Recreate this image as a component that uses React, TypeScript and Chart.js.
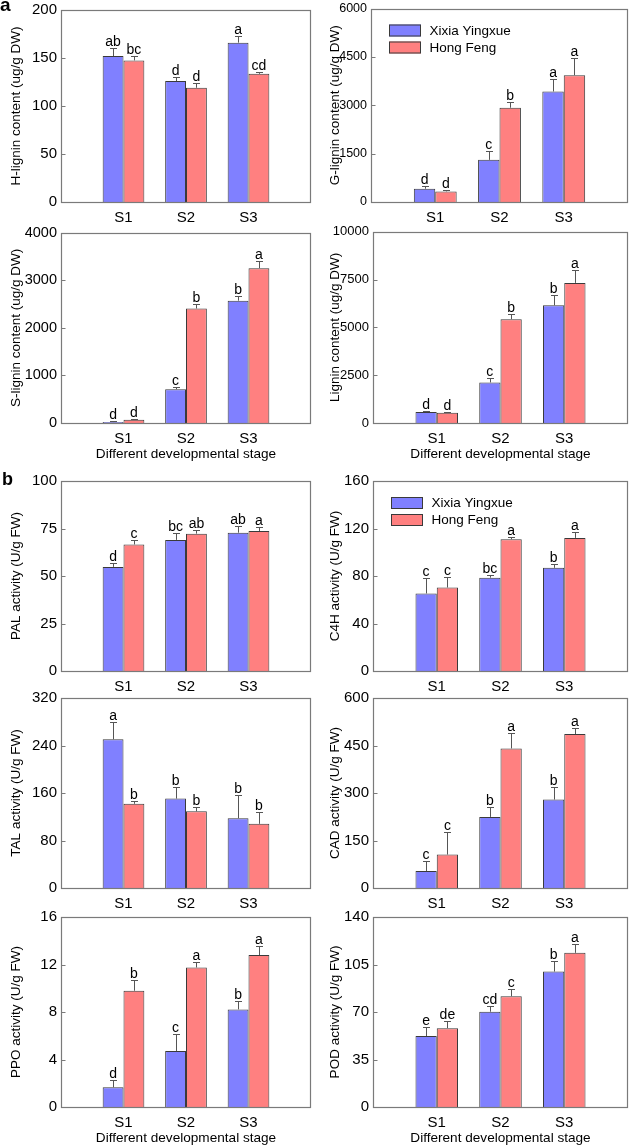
import React, { useEffect, useRef } from "react";
import { Chart, registerables } from "chart.js";

Chart.register(...registerables);

const FONT = "'Liberation Sans', Arial, Helvetica, sans-serif";
Chart.defaults.font.family = FONT;
Chart.defaults.color = "#000";

// ---------- data ----------
const stages = ["S1", "S2", "S3"];
const seriesNames = ["Xixia Yingxue", "Hong Feng"];
const xAxisTitle = "Different developmental stage";

const hLigninXixia = [152, 126, 166];
const hLigninXixiaSd = [8, 4, 7];
const hLigninXixiaSig = ["ab", "d", "a"];
const hLigninHong = [147.5, 119, 133.5];
const hLigninHongSd = [4.5, 5, 2];
const hLigninHongSig = ["bc", "d", "cd"];

const gLigninXixia = [412, 1307, 3427];
const gLigninXixiaSd = [72, 288, 381];
const gLigninXixiaSig = ["d", "c", "a"];
const gLigninHong = [329, 2923, 3931];
const gLigninHongSd = [41, 185, 546];
const gLigninHongSig = ["d", "b", "a"];

const sLigninXixia = [20, 710, 2572];
const sLigninXixiaSd = [15, 42, 104];
const sLigninXixiaSig = ["d", "c", "b"];
const sLigninHong = [69, 2407, 3255];
const sLigninHongSd = [14, 96, 159];
const sLigninHongSig = ["d", "b", "a"];

const ligninXixia = [569, 2121, 6155];
const ligninXixiaSd = [69, 207, 535];
const ligninXixiaSig = ["d", "c", "b"];
const ligninHong = [534, 5431, 7328];
const ligninHongSd = [52, 293, 689];
const ligninHongSig = ["d", "b", "a"];

const palXixia = [54.8, 69.0, 72.8];
const palXixiaSd = [2.3, 3.5, 3.3];
const palXixiaSig = ["d", "bc", "ab"];
const palHong = [66.6, 72.3, 73.7];
const palHongSd = [2.3, 1.7, 2.3];
const palHongSig = ["c", "ab", "a"];

const c4hXixia = [65.3, 78.6, 86.9];
const c4hXixiaSd = [12.8, 2.2, 3.1];
const c4hXixiaSig = ["c", "bc", "b"];
const c4hHong = [70.3, 111.0, 112.1];
const c4hHongSd = [9.1, 1.9, 5.3];
const c4hHongSig = ["c", "a", "a"];

const talXixia = [250.5, 150.6, 117.5];
const talXixiaSd = [29.8, 19.3, 38.6];
const talXixiaSig = ["a", "b", "b"];
const talHong = [141.8, 129.1, 108.1];
const talHongSd = [5.5, 7.7, 20.5];
const talHongSig = ["b", "b", "b"];

const cadXixia = [53.8, 224.5, 279.3];
const cadXixiaSd = [31, 30, 38.3];
const cadXixiaSig = ["c", "b", "b"];
const cadHong = [105.5, 440.7, 486.2];
const cadHongSd = [72.4, 49.6, 19.6];
const cadHongSig = ["c", "a", "a"];

const ppoXixia = [1.66, 4.72, 8.22];
const ppoXixiaSd = [0.6, 1.4, 0.72];
const ppoXixiaSig = ["d", "c", "b"];
const ppoHong = [9.79, 11.75, 12.8];
const ppoHongSd = [0.94, 0.5, 0.74];
const ppoHongSig = ["b", "a", "a"];

const podXixia = [52.3, 70.2, 99.8];
const podXixiaSd = [6.8, 4.2, 7.7];
const podXixiaSig = ["e", "cd", "b"];
const podHong = [58.1, 81.6, 113.6];
const podHongSd = [5.6, 5.1, 6.3];
const podHongSig = ["de", "c", "a"];

// ---------- styles ----------
const BLUE = "rgb(128,128,255)";
const RED = "rgb(255,128,128)";
const EDGE = "#3a3a3a";
const FRAME = "#7a7a7a";
const ERR = "#555";

type Panel = {
  title: string;
  max: number;
  step: number;
  a: number[]; aSd: number[]; aSig: string[];
  b: number[]; bSd: number[]; bSig: string[];
  col: number;
  plotLeft: number;
  plotTop: number;
  plotBottom: number;
  xTitle: boolean;
  legend: boolean;
  yFont: number;
};

const panels: Panel[] = [
  { title: "H-lignin content (ug/g DW)", max: 200, step: 50, a: hLigninXixia, aSd: hLigninXixiaSd, aSig: hLigninXixiaSig, b: hLigninHong, bSd: hLigninHongSd, bSig: hLigninHongSig, col: 0, plotLeft: 61, plotTop: 7, plotBottom: 202, xTitle: false, legend: false, yFont: 15 },
  { title: "G-lignin content (ug/g DW)", max: 6000, step: 1500, a: gLigninXixia, aSd: gLigninXixiaSd, aSig: gLigninXixiaSig, b: gLigninHong, bSd: gLigninHongSd, bSig: gLigninHongSig, col: 1, plotLeft: 371, plotTop: 7, plotBottom: 202, xTitle: false, legend: true, yFont: 12.5 },
  { title: "S-lignin content (ug/g DW)", max: 4000, step: 1000, a: sLigninXixia, aSd: sLigninXixiaSd, aSig: sLigninXixiaSig, b: sLigninHong, bSd: sLigninHongSd, bSig: sLigninHongSig, col: 0, plotLeft: 61, plotTop: 230, plotBottom: 423, xTitle: true, legend: false, yFont: 14.5 },
  { title: "Lignin content (ug/g DW)", max: 10000, step: 2500, a: ligninXixia, aSd: ligninXixiaSd, aSig: ligninXixiaSig, b: ligninHong, bSd: ligninHongSd, bSig: ligninHongSig, col: 1, plotLeft: 373, plotTop: 230, plotBottom: 423, xTitle: true, legend: false, yFont: 13 },
  { title: "PAL activity (U/g FW)", max: 100, step: 25, a: palXixia, aSd: palXixiaSd, aSig: palXixiaSig, b: palHong, bSd: palHongSd, bSig: palHongSig, col: 0, plotLeft: 61, plotTop: 478, plotBottom: 671, xTitle: false, legend: false, yFont: 15 },
  { title: "C4H activity (U/g FW)", max: 160, step: 40, a: c4hXixia, aSd: c4hXixiaSd, aSig: c4hXixiaSig, b: c4hHong, bSd: c4hHongSd, bSig: c4hHongSig, col: 1, plotLeft: 373, plotTop: 478, plotBottom: 671, xTitle: false, legend: true, yFont: 15 },
  { title: "TAL activity (U/g FW)", max: 320, step: 80, a: talXixia, aSd: talXixiaSd, aSig: talXixiaSig, b: talHong, bSd: talHongSd, bSig: talHongSig, col: 0, plotLeft: 61, plotTop: 695, plotBottom: 888, xTitle: false, legend: false, yFont: 15 },
  { title: "CAD activity (U/g FW)", max: 600, step: 150, a: cadXixia, aSd: cadXixiaSd, aSig: cadXixiaSig, b: cadHong, bSd: cadHongSd, bSig: cadHongSig, col: 1, plotLeft: 373, plotTop: 695, plotBottom: 888, xTitle: false, legend: false, yFont: 15 },
  { title: "PPO activity (U/g FW)", max: 16, step: 4, a: ppoXixia, aSd: ppoXixiaSd, aSig: ppoXixiaSig, b: ppoHong, bSd: ppoHongSd, bSig: ppoHongSig, col: 0, plotLeft: 61, plotTop: 914, plotBottom: 1107, xTitle: true, legend: false, yFont: 15 },
  { title: "POD activity (U/g FW)", max: 140, step: 35, a: podXixia, aSd: podXixiaSd, aSig: podXixiaSig, b: podHong, bSd: podHongSd, bSig: podHongSig, col: 1, plotLeft: 373, plotTop: 914, plotBottom: 1107, xTitle: true, legend: false, yFont: 15 },
];

const COL_LEFT = [0, 310];
const COL_RIGHT = [315, 632];
const PAD_TOP = 10;
const PAD_RIGHT = 3;

function PanelChart({ p }: { p: Panel }) {
  const ref = useRef<HTMLCanvasElement>(null);
  const canvasLeft = COL_LEFT[p.col];
  const canvasTop = p.plotTop - PAD_TOP;
  const xH = p.xTitle ? 40 : 28;
  const width = COL_RIGHT[p.col] + PAD_RIGHT - canvasLeft;
  const height = p.plotBottom - canvasTop + xH;
  const yW = p.plotLeft - canvasLeft;

  useEffect(() => {
    const labels = ["", ...stages, ""];
    const padArr = (a: number[]) => [null, ...a, null];
    const values = [p.a, p.b];
    const sds = [p.aSd, p.bSd];
    const sigs = [p.aSig, p.bSig];
    const colors = [BLUE, RED];

    const decor = {
      id: "decor",
      afterDatasetsDraw(chart: any) {
        const ctx = chart.ctx;
        const ys = chart.scales.y;
        ctx.save();
        for (let d = 0; d < 2; d++) {
          const meta = chart.getDatasetMeta(d);
          for (let j = 0; j < stages.length; j++) {
            const el = meta.data[j + 1];
            if (!el) continue;
            const x = Math.round(el.x) + 0.5;
            const v = values[d][j];
            const top = v + sds[d][j];
            const yBar = ys.getPixelForValue(v);
            const yTop = Math.round(ys.getPixelForValue(top)) + 0.5;
            ctx.strokeStyle = ERR;
            ctx.lineWidth = 1;
            ctx.beginPath();
            ctx.moveTo(x, yBar);
            ctx.lineTo(x, yTop);
            ctx.moveTo(x - 3.5, yTop);
            ctx.lineTo(x + 3.5, yTop);
            ctx.stroke();
            ctx.fillStyle = "#000";
            ctx.font = `14px ${FONT}`;
            ctx.textAlign = "center";
            ctx.textBaseline = "alphabetic";
            ctx.fillText(sigs[d][j], el.x, yTop - 2.5);
          }
        }
        ctx.restore();
      },
      afterDraw(chart: any) {
        const ctx = chart.ctx;
        const area = chart.chartArea;
        const ys = chart.scales.y;
        ctx.save();
        ctx.strokeStyle = FRAME;
        ctx.lineWidth = 1.2;
        const l = Math.round(area.left) + 0.5;
        const t = Math.round(area.top) + 0.5;
        const r = Math.round(area.right) - 0.5;
        const b = Math.round(area.bottom) + 0.5;
        ctx.strokeRect(l, t, r - l, b - t);
        ctx.beginPath();
        for (const tk of ys.ticks) {
          const y = Math.round(ys.getPixelForValue(tk.value)) + 0.5;
          ctx.moveTo(l, y);
          ctx.lineTo(l + 4, y);
        }
        ctx.stroke();
        if (p.legend) {
          const lx = area.left + 18;
          for (let i = 0; i < 2; i++) {
            const cy = area.top + 22 + i * 17;
            ctx.fillStyle = colors[i];
            ctx.fillRect(lx, cy - 6, 32, 12);
            ctx.strokeStyle = EDGE;
            ctx.lineWidth = 1;
            ctx.strokeRect(lx + 0.5, cy - 5.5, 31, 11);
            ctx.fillStyle = "#000";
            ctx.font = `13.5px ${FONT}`;
            ctx.textAlign = "left";
            ctx.textBaseline = "middle";
            ctx.fillText(seriesNames[i], area.left + 58.5, cy + 0.5);
          }
        }
        ctx.restore();
      },
    };

    const chart = new Chart(ref.current as HTMLCanvasElement, {
      type: "bar",
      data: {
        labels,
        datasets: [
          { label: seriesNames[0], data: padArr(p.a) as any, backgroundColor: BLUE, borderColor: EDGE, borderWidth: 1, categoryPercentage: 0.667, barPercentage: 1 },
          { label: seriesNames[1], data: padArr(p.b) as any, backgroundColor: RED, borderColor: EDGE, borderWidth: 1, categoryPercentage: 0.667, barPercentage: 1 },
        ],
      },
      options: {
        responsive: false,
        animation: false,
        layout: { padding: { top: PAD_TOP, right: PAD_RIGHT, left: 0, bottom: 0 } },
        plugins: { legend: { display: false }, tooltip: { enabled: false } },
        scales: {
          x: {
            type: "category",
            offset: false,
            grid: { display: false, drawTicks: false },
            border: { display: false },
            ticks: { autoSkip: false, maxRotation: 0, minRotation: 0, padding: 7, font: { size: 15 }, color: "#000" },
            title: { display: p.xTitle, text: xAxisTitle, font: { size: 13.6 }, color: "#000", padding: { top: 0, bottom: 1 } },
            afterFit: (s: any) => { s.height = xH; },
          },
          y: {
            min: 0,
            max: p.max,
            grid: { display: false, drawTicks: false },
            border: { display: false },
            ticks: { stepSize: p.step, padding: 4, font: { size: p.yFont }, color: "#000", callback: (v: any) => String(v) },
            title: { display: true, text: p.title, font: { size: 13.5 }, color: "#000", padding: { top: p.col ? 17 : 8, bottom: 0 } },
            afterFit: (s: any) => { s.width = yW; },
          },
        },
      } as any,
      plugins: [decor],
    });
    return () => chart.destroy();
  }, []);

  return (
    <canvas
      ref={ref}
      width={width}
      height={height}
      style={{ position: "absolute", left: canvasLeft, top: canvasTop, width, height }}
    />
  );
}

export default function App() {
  const letterStyle: React.CSSProperties = {
    position: "absolute",
    fontFamily: FONT,
    fontWeight: "bold",
    lineHeight: 1,
    margin: 0,
  };
  return (
    <div style={{ position: "absolute", left: 0, top: 0, width: 635, height: 1147, background: "#fff", overflow: "hidden" }}>
      {panels.map((p, i) => (
        <PanelChart key={i} p={p} />
      ))}
      <div style={{ ...letterStyle, left: 0, top: -5, fontSize: 19 }}>a</div>
      <div style={{ ...letterStyle, left: 2, top: 470, fontSize: 18 }}>b</div>
    </div>
  );
}
